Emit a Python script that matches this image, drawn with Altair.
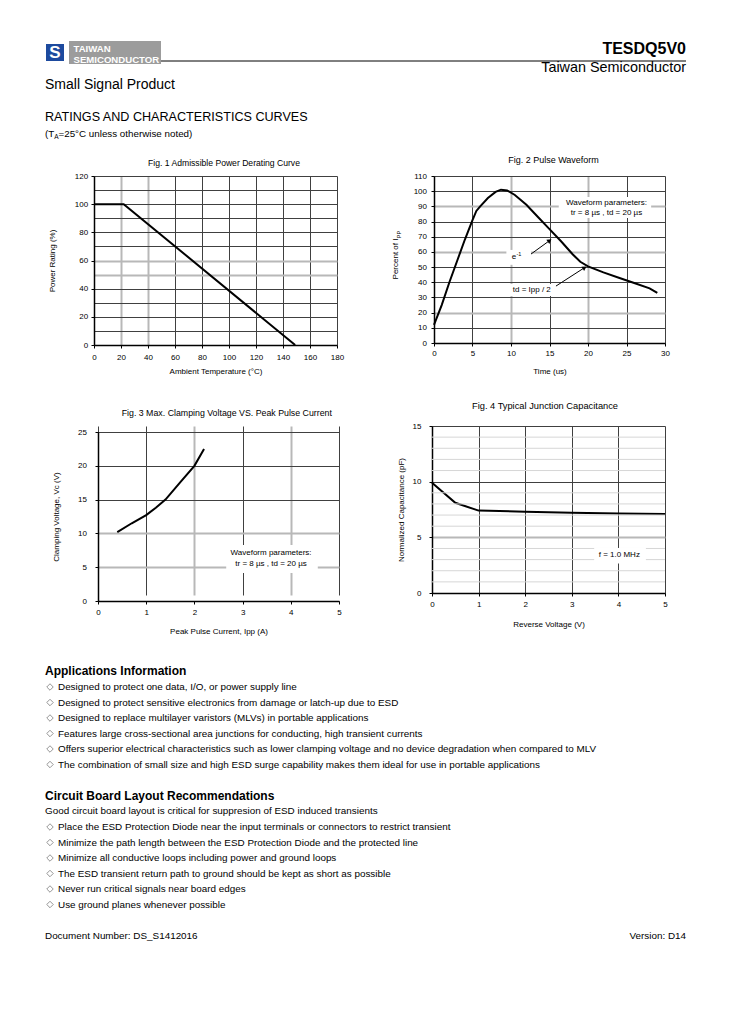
import math
import altair as alt
import pandas as pd

FONT = "Liberation Sans"

# ---------------- chart data ----------------
# Fig. 1 Admissible Power Derating Curve
derate_temp = [0, 22, 149]
derate_power = [100, 100, 0]

# Fig. 2 Pulse Waveform
pulse_time = [0, 1, 2, 3, 4, 5, 5.5, 6, 7, 8, 8.7, 9.5, 10.5, 12, 13.5, 15,
              16.5, 18, 19, 20, 22, 24, 26, 28, 29]
pulse_pct = [12, 25, 40, 54, 68, 81, 87, 90, 95.5, 99.5, 101, 100.5, 97.5, 91,
             83, 75, 67, 58.5, 53.5, 50.5, 46.5, 43, 39.5, 36, 33]

# Fig. 3 Max. Clamping Voltage VS. Peak Pulse Current
ipp = [0.4, 0.7, 1.0, 1.2, 1.4, 1.7, 2.0, 2.2]
vc = [10.2, 11.5, 12.7, 13.8, 15.0, 17.5, 20.0, 22.5]

# Fig. 4 Typical Junction Capacitance
vr = [0, 0.5, 1, 2, 3, 4, 5]
cap = [9.9, 8.1, 7.4, 7.3, 7.2, 7.15, 7.1]

# ---------------- texts ----------------
fig_titles = ["Fig. 1 Admissible Power Derating Curve", "Fig. 2 Pulse Waveform",
              "Fig. 3 Max. Clamping Voltage VS. Peak Pulse Current",
              "Fig. 4 Typical Junction Capacitance"]
x_titles = ["Ambient Temperature (\u00b0C)", "Time (us)", "Peak Pulse Current, Ipp (A)",
            "Reverse Voltage (V)"]
y_titles = ["Power Rating (%)", "Percent of I", "Clamping Voltage, Vc (V)",
            "Normalized Capacitance (pF)"]
y2_sub = "PP"
wave_note = ["Waveform parameters:", "tr = 8 \u00b5s , td = 20 \u00b5s"]
e_label = ["e", "-1"]
td_label = "td = Ipp / 2"
freq_note = "f = 1.0 MHz"

brand = ["TAIWAN", "SEMICONDUCTOR"]
logo_letter = "S"
part_number = "TESDQ5V0"
company = "Taiwan Semiconductor"
product_line = "Small Signal Product"
section_title = "RATINGS AND CHARACTERISTICS CURVES"
cond_note = ["(T", "A", "=25\u00b0C unless otherwise noted)"]

app_title = "Applications Information"
app_items = [
    "Designed to protect one data, I/O, or power supply line",
    "Designed to protect sensitive electronics from damage or latch-up due to ESD",
    "Designed to replace multilayer varistors (MLVs) in portable applications",
    "Features large cross-sectional area junctions for conducting, high transient currents",
    "Offers superior electrical characteristics such as lower clamping voltage and no device degradation when compared to MLV",
    "The combination of small size and high ESD surge capability makes them ideal for use in portable applications",
]
layout_title = "Circuit Board Layout Recommendations"
layout_intro = "Good circuit board layout is critical for suppresion of ESD induced transients"
layout_items = [
    "Place the ESD Protection Diode near the input terminals or connectors to restrict transient",
    "Minimize the path length between the ESD Protection Diode and the protected line",
    "Minimize all conductive loops including power and ground loops",
    "The ESD transient return path to ground should be kept as short as possible",
    "Never run critical signals near board edges",
    "Use ground planes whenever possible",
]
doc_number = "Document Number: DS_S1412016"
version = "Version: D14"


# ---------------- helpers ----------------
def gridc(gray):
    return {"condition": {"test": f"indexof({list(gray)}, datum.value) >= 0", "value": "#b8b8b8"},
            "value": "#404040"}


def gridw(gray):
    return {"condition": {"test": f"indexof({list(gray)}, datum.value) >= 0", "value": 2},
            "value": 1}


def axis(values, title, label_pad, title_pad, gray=(), label_test=None, offset=0):
    kw = dict(values=values, title=title, grid=True, labelPadding=label_pad,
              titlePadding=title_pad, gridColor=gridc(gray), gridWidth=gridw(gray))
    if offset:
        kw["offset"] = offset
    if label_test:
        kw["labelExpr"] = f"({label_test}) ? datum.label : ''"
        kw["tickOpacity"] = {"condition": {"test": f"!({label_test})", "value": 0}, "value": 1}
    return alt.Axis(**kw)


def sc(dom, rng=None):
    if rng is None:
        return alt.Scale(domain=dom, nice=False, zero=False)
    return alt.Scale(domain=dom, range=rng, nice=False, zero=False)


class Enc:
    def __init__(self, xsc, ysc, xax, yax):
        self.xsc, self.ysc, self.xax, self.yax = xsc, ysc, xax, yax

    def X(self, f):
        return alt.X(f, scale=self.xsc, axis=self.xax)

    def Y(self, f):
        return alt.Y(f, scale=self.ysc, axis=self.yax)


def curve(e, xs, ys):
    df = pd.DataFrame({"x": xs, "y": ys})
    return alt.Chart(df).mark_line(color="black", strokeWidth=2).encode(
        x=e.X("x:Q"), y=e.Y("y:Q"))


def box(e, x, x2, y, y2):
    df = pd.DataFrame({"x": [x], "x2": [x2], "y": [y], "y2": [y2]})
    return alt.Chart(df).mark_rect(color="white").encode(
        x=e.X("x:Q"), x2="x2:Q", y=e.Y("y:Q"), y2="y2:Q")


def note(e, texts, xs, ys, size=8, align="center"):
    df = pd.DataFrame({"t": texts, "x": xs, "y": ys})
    return alt.Chart(df).mark_text(font=FONT, fontSize=size, color="black", align=align,
                                   baseline="middle").encode(
        x=e.X("x:Q"), y=e.Y("y:Q"), text="t:N")


def ftitle(text, offset, dx, size):
    return alt.TitleParams(text=text, offset=offset, dx=dx, frame="group", anchor="middle",
                           font=FONT, fontSize=size, fontWeight="normal", color="black")


# ---------------- Fig. 1 ----------------
e1 = Enc(sc([0, 180], [0, 243]), sc([0, 120]),
         axis(list(range(0, 181, 20)), x_titles[0], 5, 6, gray=[20, 40]),
         axis(list(range(0, 121, 10)), y_titles[0], 3.3, 17.5, gray=[50, 60],
              label_test="datum.value % 20 == 0"))
fig1 = alt.layer(
    curve(e1, derate_temp, derate_power),
).properties(width=245, height=169, title=ftitle(fig_titles[0], 4, 7.5, 8.6))

# ---------------- Fig. 2 ----------------
W2, H2 = 231, 167
px2 = W2 / 30.0
py2 = H2 / 110.0
e2 = Enc(sc([0, 30], [2, 233]), sc([0, 110]),
         axis(list(range(0, 31, 5)), x_titles[1], 3.5, 9.5, gray=[10, 20]),
         axis(list(range(0, 111, 10)), "", 4.5, 10, gray=[20, 60, 90], offset=-2))
arrows = pd.DataFrame({"x": [12.6, 15.84], "y": [58.6, 37.5],
                       "x2": [14.94, 19.48], "y2": [67.2, 49.4]})
arrows["a"] = [math.degrees(math.atan2((r.x2 - r.x) * px2, (r.y2 - r.y) * py2))
               for r in arrows.itertuples()]
arrow_lines = alt.Chart(arrows).mark_rule(color="black", strokeWidth=1).encode(
    x=e2.X("x:Q"), y=e2.Y("y:Q"), x2="x2:Q", y2="y2:Q")
arrow_heads = alt.Chart(arrows).mark_point(shape="triangle", filled=True, color="black",
                                           size=26, opacity=1).encode(
    x=e2.X("x2:Q"), y=e2.Y("y2:Q"), angle=alt.Angle("a:Q", scale=None))
ytitle2 = alt.Chart(pd.DataFrame({"t": [y_titles[1]]})).mark_text(
    font=FONT, fontSize=8, angle=270, align="center", baseline="middle", color="black").encode(
    x=alt.value(-36), y=alt.value(83), text="t:N")
ysub2 = alt.Chart(pd.DataFrame({"t": [y2_sub]})).mark_text(
    font=FONT, fontSize=5.5, angle=270, align="center", baseline="middle", color="black").encode(
    x=alt.value(-33.5), y=alt.value(58.5), text="t:N")

fig2 = alt.layer(
    curve(e2, pulse_time, pulse_pct),
    box(e2, 16.2, 28.2, 82.3, 96.2),
    box(e2, 9.4, 12.6, 51.5, 61.3),
    box(e2, 9.74, 15.6, 31.0, 38.9),
    note(e2, wave_note, [22.4, 22.4], [92.0, 85.8]),
    note(e2, [e_label[0]], [10.39], [56.6]),
    note(e2, [e_label[1]], [10.71], [58.8], size=5.5, align="left"),
    note(e2, [td_label], [12.7], [35.0]),
    arrow_lines, arrow_heads, ytitle2, ysub2,
).properties(width=233, height=H2, title=ftitle(fig_titles[1], 7, 5, 9))

# ---------------- Fig. 3 ----------------
e3 = Enc(sc([0, 5], [4, 245]), sc([0, 25], [175, 6]),
         axis(list(range(0, 6)), x_titles[2], 4, 11, gray=[2, 4]),
         axis(list(range(0, 26, 5)), y_titles[2], 8.5, 17, gray=[5, 10], offset=-4))
fig3 = alt.layer(
    curve(e3, ipp, vc),
    box(e3, 2.66, 4.56, 4.14, 8.28),
    note(e3, wave_note, [3.59, 3.59], [7.06, 5.43]),
).properties(width=245, height=175, title=ftitle(fig_titles[2], 8.7, 10.3, 8.8))

# ---------------- Fig. 4 ----------------
e4 = Enc(sc([0, 5]), sc([0, 15]),
         axis(list(range(0, 6)), x_titles[3], 4.3, 12),
         axis([0, 5, 10, 15], y_titles[3], 8, 7, gray=[5]))
minor_c = pd.DataFrame({"y": [v for v in range(1, 15) if v % 5 != 0]})
minor_lines = alt.Chart(minor_c).mark_rule(color="#d6d6d6", strokeWidth=1).encode(
    y=e4.Y("y:Q"))
fig4 = alt.layer(
    curve(e4, vr, cap),
    minor_lines,
    box(e4, 3.48, 4.59, 2.65, 4.05),
    note(e4, [freq_note], [4.02], [3.39]),
).properties(width=233, height=167, title=ftitle(fig_titles[3], 10.3, -3.5, 9.3))


# ---------------- page text ----------------
def text_layer(items, xs, ys, size, weight="normal", align="left", color="black"):
    df = pd.DataFrame({"t": items, "px": xs, "py": ys})
    return alt.Chart(df).mark_text(font=FONT, fontSize=size, fontWeight=weight, align=align,
                                   baseline="middle", color=color).encode(
        x=alt.X("px:Q", scale=None, axis=None), y=alt.Y("py:Q", scale=None, axis=None),
        text="t:N")


def rect_layer(x, x2, y, y2, color, opacity=1):
    return alt.Chart(pd.DataFrame({"v": [0]})).mark_rect(color=color, opacity=opacity).encode(
        x=alt.value(x), x2=alt.value(x2), y=alt.value(y), y2=alt.value(y2))


header = alt.layer(
    rect_layer(37, 55, 35, 52, "#1d4a9e"),
    text_layer([logo_letter], [46], [43.5], 17, weight="bold", align="center", color="white"),
    rect_layer(60, 152, 32, 55, "#9c9c9c"),
    text_layer(brand, [64.5, 64.5], [39.5, 50.5], 9.6, weight="bold", color="white"),
    alt.Chart(pd.DataFrame({"v": [0]})).mark_rule(color="black", strokeWidth=1).encode(
        x=alt.value(152), x2=alt.value(677), y=alt.value(52)),
    text_layer([part_number], [677], [40], 16, weight="bold", align="right"),
    text_layer([company], [677], [59], 14.4, align="right"),
    text_layer([product_line], [36], [76], 14),
    text_layer([section_title], [36], [108], 12.6),
    text_layer([cond_note[0], cond_note[2]], [36, 49.5], [125, 125], 9.8),
    text_layer([cond_note[1]], [45.3], [127.5], 6.5),
).properties(width=85, height=167)

BODY = 9.9
app_y = [86 + 15.5 * i for i in range(len(app_items))]
lay_y = [226 + 15.5 * i for i in range(len(layout_items))]
bullet_df = pd.DataFrame({"px": [41] * (len(app_y) + len(lay_y)), "py": app_y + lay_y})
bullets = alt.Chart(bullet_df).mark_point(shape="diamond", filled=False, color="#8a8a8a",
                                          strokeWidth=0.9, size=42, opacity=1).encode(
    x=alt.X("px:Q", scale=None, axis=None), y=alt.Y("py:Q", scale=None, axis=None))

footer = alt.layer(
    text_layer([app_title, layout_title], [36, 36], [70, 195], 12, weight="bold"),
    bullets,
    text_layer(app_items, [49] * len(app_items), app_y, BODY),
    text_layer([layout_intro], [36], [210], BODY),
    text_layer(layout_items, [49] * len(layout_items), lay_y, BODY),
    text_layer([doc_number], [36], [335], BODY),
    text_layer([version], [677], [335], BODY, align="right"),
).properties(width=85, height=416)


# ---------------- layout (4-column grid, flush bounds) ----------------
def sp(w, h):
    return rect_layer(0, 1, 0, 1, "white", opacity=0).properties(width=w, height=h)


cells = [
    header, sp(245, 1), sp(93, 1), sp(233, 1),
    sp(85, 1), fig1, sp(93, 1), fig2,
    sp(85, 81), sp(245, 1), sp(93, 1), sp(233, 1),
    sp(85, 1), fig3, sp(93, 1), fig4,
    footer,
]

chart = alt.concat(*cells, columns=4, bounds="flush", spacing=0).properties(
    padding=0
).configure_view(
    stroke="transparent"
).configure_axis(
    labelFont=FONT, labelFontSize=8, labelColor="black", titleFont=FONT, titleFontSize=8,
    titleFontWeight="normal", titleColor="black", domainColor="black", domainWidth=1.5,
    tickColor="black", tickSize=3, tickWidth=1, labelFlush=False, labelOverlap=False
)

chart.save("out.html", embed_options={"renderer": "svg", "actions": False})
